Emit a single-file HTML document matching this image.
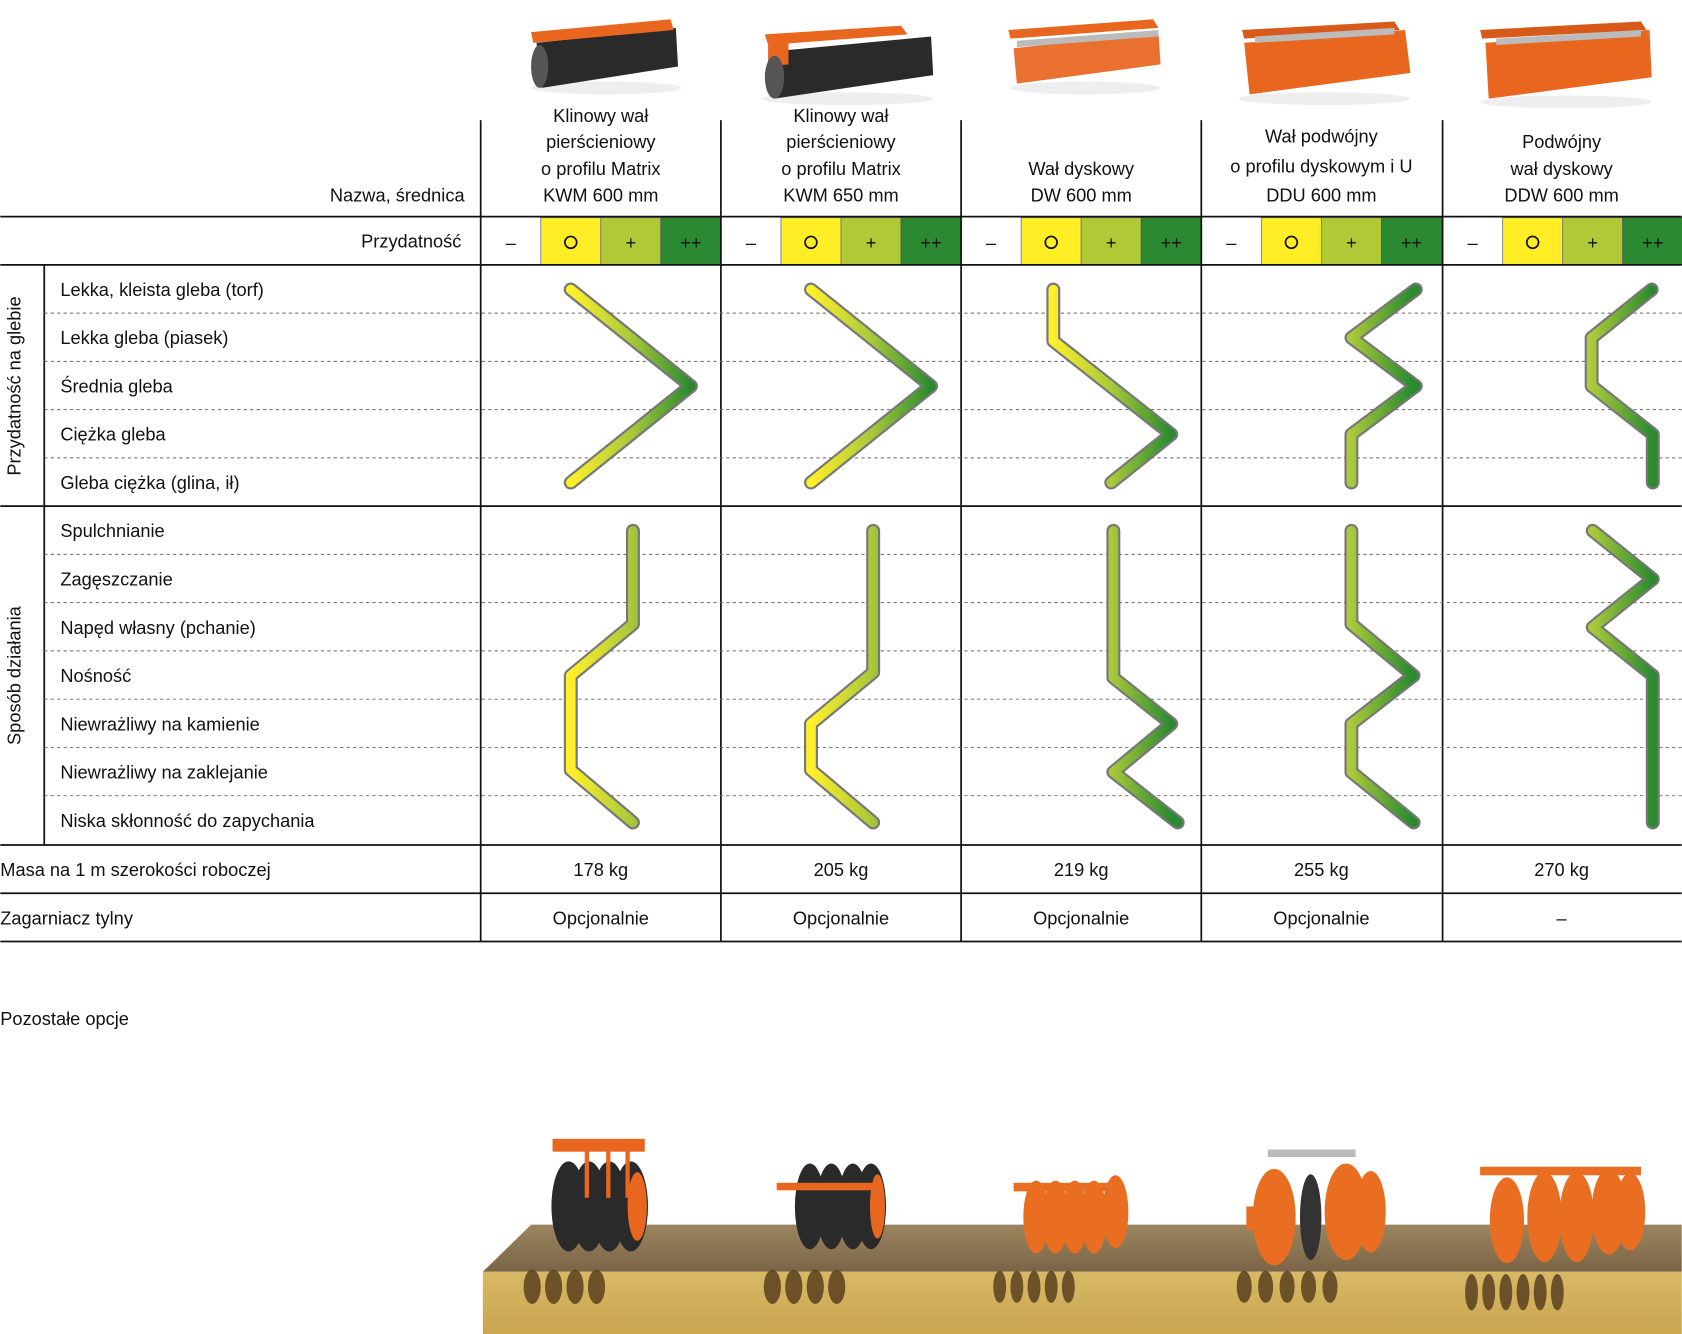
<!DOCTYPE html>
<html><head><meta charset="utf-8"><style>
html,body{margin:0;padding:0;background:#fff}
svg{display:block}
text{font-family:"Liberation Sans",sans-serif;font-size:17px;fill:#111}
</style></head><body>
<svg width="1682" height="1334" viewBox="0 0 1568 1244" xmlns="http://www.w3.org/2000/svg">
<defs>
<linearGradient id="gr" x1="0" y1="0" x2="1" y2="0">
<stop offset="0" stop-color="#fff02a"/><stop offset="0.5" stop-color="#a9c93a"/><stop offset="1" stop-color="#2a8a30"/>
</linearGradient>
<linearGradient id="soilTop" x1="0" y1="0" x2="0" y2="1"><stop offset="0" stop-color="#9b8660"/><stop offset="1" stop-color="#7a6446"/></linearGradient>
<linearGradient id="soilFront" x1="0" y1="0" x2="0" y2="1"><stop offset="0" stop-color="#d8b966"/><stop offset="1" stop-color="#c9a550"/></linearGradient>
</defs>

<!-- top product images -->
<g>
<g transform="translate(0,0)">
<ellipse cx="565" cy="82" rx="70" ry="6" fill="#eee"/>
<polygon points="500,40 630,26 632,62 505,82" fill="#2a2a2a"/>
<polygon points="495,30 625,18 628,28 497,40" fill="#e8661e"/>
<ellipse cx="503" cy="62" rx="8" ry="20" fill="#555"/>
</g>
<g>
<ellipse cx="790" cy="92" rx="80" ry="6" fill="#eee"/>
<polygon points="720,48 868,34 870,70 722,92" fill="#2a2a2a"/>
<polygon points="713,32 840,24 846,32 716,42" fill="#e8661e"/>
<polygon points="716,42 735,40 735,60 716,62" fill="#e8661e"/>
<ellipse cx="722" cy="72" rx="9" ry="20" fill="#555"/>
</g>
<g>
<ellipse cx="1012" cy="82" rx="70" ry="6" fill="#eee"/>
<polygon points="945,45 1080,30 1082,60 948,78" fill="#ea7030"/>
<polygon points="940,28 1075,18 1080,26 942,36" fill="#e8661e"/>
<polygon points="948,38 1080,28 1080,34 948,44" fill="#bbb"/>
</g>
<g>
<ellipse cx="1235" cy="92" rx="80" ry="6" fill="#eee"/>
<polygon points="1160,40 1310,28 1315,68 1165,88" fill="#e8661e"/>
<polygon points="1158,28 1300,20 1305,28 1160,36" fill="#d85a18"/>
<polygon points="1170,34 1300,26 1300,32 1170,40" fill="#bbb"/>
</g>
<g>
<ellipse cx="1460" cy="95" rx="80" ry="6" fill="#eee"/>
<polygon points="1385,40 1538,28 1540,72 1388,92" fill="#e8661e"/>
<polygon points="1380,28 1530,20 1535,28 1382,36" fill="#d85a18"/>
<polygon points="1395,36 1530,28 1530,34 1395,42" fill="#bbb"/>
</g>
</g>

<!-- header text -->
<g text-anchor="middle">
<text x="560" y="114">Klinowy wał</text><text x="560" y="138">pierścieniowy</text><text x="560" y="163">o profilu Matrix</text><text x="560" y="188">KWM 600 mm</text>
<text x="784" y="114">Klinowy wał</text><text x="784" y="138">pierścieniowy</text><text x="784" y="163">o profilu Matrix</text><text x="784" y="188">KWM 650 mm</text>
<text x="1008" y="163">Wał dyskowy</text><text x="1008" y="188">DW 600 mm</text>
<text x="1232" y="133">Wał podwójny</text><text x="1232" y="161">o profilu dyskowym i U</text><text x="1232" y="188">DDU 600 mm</text>
<text x="1456" y="138">Podwójny</text><text x="1456" y="163">wał dyskowy</text><text x="1456" y="188">DDW 600 mm</text>
</g>
<text x="433" y="188" text-anchor="end">Nazwa, średnica</text>
<text x="430" y="231" text-anchor="end">Przydatność</text>

<!-- rating cells -->
<g id="rc">
<rect x="504" y="203" width="56" height="44" fill="#ffed26" stroke="#777" stroke-width="0.8"/>
<rect x="560" y="203" width="56" height="44" fill="#afca36" stroke="#777" stroke-width="0.8"/>
<rect x="616" y="203" width="56" height="44" fill="#2b8a31" stroke="#555" stroke-width="0.8"/>
<text x="476" y="232" text-anchor="middle">–</text>
<circle cx="532" cy="226" r="5.5" fill="none" stroke="#111" stroke-width="1.6"/>
<text x="588" y="232" text-anchor="middle">+</text>
<text x="644" y="232" text-anchor="middle">++</text>
</g>
<use href="#rc" x="224"/><use href="#rc" x="448"/><use href="#rc" x="672"/><use href="#rc" x="897"/>

<!-- grid lines -->
<g stroke="#111" stroke-width="1.6">
<line x1="0" y1="202" x2="1568" y2="202"/>
<line x1="0" y1="247" x2="1568" y2="247"/>
<line x1="0" y1="472" x2="1568" y2="472"/>
<line x1="0" y1="788" x2="1568" y2="788"/>
<line x1="0" y1="833" x2="1568" y2="833"/>
<line x1="0" y1="878" x2="1568" y2="878"/>
<line x1="41" y1="247" x2="41" y2="788"/>
<line x1="448" y1="112" x2="448" y2="878"/>
<line x1="672" y1="112" x2="672" y2="878"/>
<line x1="896" y1="112" x2="896" y2="878"/>
<line x1="1120" y1="112" x2="1120" y2="878"/>
<line x1="1345" y1="112" x2="1345" y2="878"/>
</g>
<g stroke="#666" stroke-width="0.9" stroke-dasharray="3,3">
<line x1="41" y1="292" x2="1568" y2="292"/><line x1="41" y1="337" x2="1568" y2="337"/><line x1="41" y1="382" x2="1568" y2="382"/><line x1="41" y1="427" x2="1568" y2="427"/>
<line x1="41" y1="517" x2="1568" y2="517"/><line x1="41" y1="562" x2="1568" y2="562"/><line x1="41" y1="607" x2="1568" y2="607"/><line x1="41" y1="652" x2="1568" y2="652"/><line x1="41" y1="697" x2="1568" y2="697"/><line x1="41" y1="742" x2="1568" y2="742"/>
</g>

<!-- row labels -->
<g>
<text x="56" y="276">Lekka, kleista gleba (torf)</text>
<text x="56" y="321">Lekka gleba (piasek)</text>
<text x="56" y="366">Średnia gleba</text>
<text x="56" y="411">Ciężka gleba</text>
<text x="56" y="456">Gleba ciężka (glina, ił)</text>
<text x="56" y="501">Spulchnianie</text>
<text x="56" y="546">Zagęszczanie</text>
<text x="56" y="591">Napęd własny (pchanie)</text>
<text x="56" y="636">Nośność</text>
<text x="56" y="681">Niewrażliwy na kamienie</text>
<text x="56" y="726">Niewrażliwy na zaklejanie</text>
<text x="56" y="771">Niska skłonność do zapychania</text>
</g>
<text transform="translate(19,360) rotate(-90)" text-anchor="middle">Przydatność na glebie</text>
<text transform="translate(19,630) rotate(-90)" text-anchor="middle">Sposób działania</text>

<!-- curves -->
<g fill="none" stroke-linejoin="round" stroke-linecap="round">
<g transform="translate(0,0)">
<polyline id="c1a" points="532,270 644,360 532,450" stroke="#777" stroke-width="13"/>
<polyline points="532,270 644,360 532,450" stroke="url(#gr)" stroke-width="9" transform=""/>
</g>
</g>
<!-- gradients per column drawn via userSpaceOnUse -->
<defs>
<linearGradient id="g1" gradientUnits="userSpaceOnUse" x1="532" y1="0" x2="644" y2="0"><stop offset="0" stop-color="#fff02a"/><stop offset="0.5" stop-color="#a9c93a"/><stop offset="1" stop-color="#2a8a30"/></linearGradient>
<linearGradient id="g2" gradientUnits="userSpaceOnUse" x1="756" y1="0" x2="868" y2="0"><stop offset="0" stop-color="#fff02a"/><stop offset="0.5" stop-color="#a9c93a"/><stop offset="1" stop-color="#2a8a30"/></linearGradient>
<linearGradient id="g3" gradientUnits="userSpaceOnUse" x1="980" y1="0" x2="1092" y2="0"><stop offset="0" stop-color="#fff02a"/><stop offset="0.5" stop-color="#a9c93a"/><stop offset="1" stop-color="#2a8a30"/></linearGradient>
<linearGradient id="g4" gradientUnits="userSpaceOnUse" x1="1204" y1="0" x2="1316" y2="0"><stop offset="0" stop-color="#fff02a"/><stop offset="0.5" stop-color="#a9c93a"/><stop offset="1" stop-color="#2a8a30"/></linearGradient>
<linearGradient id="g5" gradientUnits="userSpaceOnUse" x1="1429" y1="0" x2="1541" y2="0"><stop offset="0" stop-color="#fff02a"/><stop offset="0.5" stop-color="#a9c93a"/><stop offset="1" stop-color="#2a8a30"/></linearGradient>
</defs>
<g fill="none" stroke-linejoin="round" stroke-linecap="round" stroke="#777" stroke-width="13">
<polyline points="532,270 644,360 532,450"/>
<polyline points="590,495 590,582 532,630 532,718 590,767"/>
<polyline points="756,270 868,360 756,450"/>
<polyline points="814,495 814,627 756,675 756,718 814,767"/>
<polyline points="982,270 982,318 1092,405 1036,450"/>
<polyline points="1038,495 1038,632 1092,675 1038,720 1098,767"/>
<polyline points="1320,270 1260,315 1320,360 1260,405 1260,450"/>
<polyline points="1260,495 1260,582 1318,630 1260,675 1260,720 1318,767"/>
<polyline points="1540,270 1484,315 1484,360 1541,405 1541,450"/>
<polyline points="1485,495 1541,540 1485,585 1541,630 1541,767"/>
</g>
<g fill="none" stroke-linejoin="round" stroke-linecap="round" stroke-width="9">
<polyline stroke="url(#g1)" points="532,270 644,360 532,450"/>
<polyline stroke="url(#g1)" points="590,495 590,582 532,630 532,718 590,767"/>
<polyline stroke="url(#g2)" points="756,270 868,360 756,450"/>
<polyline stroke="url(#g2)" points="814,495 814,627 756,675 756,718 814,767"/>
<polyline stroke="url(#g3)" points="982,270 982,318 1092,405 1036,450"/>
<polyline stroke="url(#g3)" points="1038,495 1038,632 1092,675 1038,720 1098,767"/>
<polyline stroke="url(#g4)" points="1320,270 1260,315 1320,360 1260,405 1260,450"/>
<polyline stroke="url(#g4)" points="1260,495 1260,582 1318,630 1260,675 1260,720 1318,767"/>
<polyline stroke="url(#g5)" points="1540,270 1484,315 1484,360 1541,405 1541,450"/>
<polyline stroke="url(#g5)" points="1485,495 1541,540 1485,585 1541,630 1541,767"/>
</g>

<!-- bottom rows -->
<text x="0" y="817">Masa na 1 m szerokości roboczej</text>
<text x="0" y="862">Zagarniacz tylny</text>
<g text-anchor="middle">
<text x="560" y="817">178 kg</text><text x="784" y="817">205 kg</text><text x="1008" y="817">219 kg</text><text x="1232" y="817">255 kg</text><text x="1456" y="817">270 kg</text>
<text x="560" y="862">Opcjonalnie</text><text x="784" y="862">Opcjonalnie</text><text x="1008" y="862">Opcjonalnie</text><text x="1232" y="862">Opcjonalnie</text><text x="1456" y="862">–</text>
</g>
<text x="0" y="956">Pozostałe opcje</text>

<!-- soil block -->
<polygon points="450,1186 495,1142 1568,1142 1568,1186" fill="url(#soilTop)"/>
<rect x="450" y="1186" width="1118" height="58" fill="url(#soilFront)"/>
<g fill="#5a4020" opacity="0.85">
<ellipse cx="496" cy="1200" rx="8" ry="16"/><ellipse cx="516" cy="1200" rx="8" ry="16"/><ellipse cx="536" cy="1200" rx="8" ry="16"/><ellipse cx="556" cy="1200" rx="8" ry="16"/>
<ellipse cx="720" cy="1200" rx="8" ry="16"/><ellipse cx="740" cy="1200" rx="8" ry="16"/><ellipse cx="760" cy="1200" rx="8" ry="16"/><ellipse cx="780" cy="1200" rx="8" ry="16"/>
<ellipse cx="932" cy="1200" rx="6" ry="15"/><ellipse cx="948" cy="1200" rx="6" ry="15"/><ellipse cx="964" cy="1200" rx="6" ry="15"/><ellipse cx="980" cy="1200" rx="6" ry="15"/><ellipse cx="996" cy="1200" rx="6" ry="15"/>
<ellipse cx="1160" cy="1200" rx="7" ry="15"/><ellipse cx="1180" cy="1200" rx="7" ry="15"/><ellipse cx="1200" cy="1200" rx="7" ry="15"/><ellipse cx="1220" cy="1200" rx="7" ry="15"/><ellipse cx="1240" cy="1200" rx="7" ry="15"/>
<ellipse cx="1372" cy="1205" rx="6" ry="17"/><ellipse cx="1388" cy="1205" rx="6" ry="17"/><ellipse cx="1404" cy="1205" rx="6" ry="17"/><ellipse cx="1420" cy="1205" rx="6" ry="17"/><ellipse cx="1436" cy="1205" rx="6" ry="17"/><ellipse cx="1452" cy="1205" rx="6" ry="17"/>
</g>
<!-- bottom rollers -->
<g>
<rect x="515" y="1062" width="86" height="12" fill="#e8661e"/>
<ellipse cx="530" cy="1125" rx="16" ry="42" fill="#2a2a2a"/><ellipse cx="549" cy="1125" rx="16" ry="42" fill="#2a2a2a"/><ellipse cx="568" cy="1125" rx="16" ry="42" fill="#2a2a2a"/><ellipse cx="588" cy="1125" rx="16" ry="42" fill="#2a2a2a"/>
<ellipse cx="594" cy="1125" rx="9" ry="32" fill="#e8661e"/>
<rect x="545" y="1072" width="4" height="45" fill="#e8661e"/><rect x="565" y="1072" width="4" height="45" fill="#e8661e"/><rect x="583" y="1072" width="4" height="45" fill="#e8661e"/>
</g>
<g>
<ellipse cx="755" cy="1125" rx="14" ry="40" fill="#2a2a2a"/><ellipse cx="775" cy="1125" rx="14" ry="40" fill="#2a2a2a"/><ellipse cx="795" cy="1125" rx="14" ry="40" fill="#2a2a2a"/><ellipse cx="812" cy="1125" rx="14" ry="40" fill="#2a2a2a"/>
<ellipse cx="818" cy="1125" rx="7" ry="30" fill="#e8661e"/>
<rect x="724" y="1103" width="96" height="7" fill="#e8661e"/>
</g>
<g fill="#ea6e22">
<rect x="945" y="1103" width="100" height="8"/>
<ellipse cx="966" cy="1135" rx="12" ry="34"/><ellipse cx="984" cy="1135" rx="12" ry="34"/><ellipse cx="1002" cy="1135" rx="12" ry="34"/><ellipse cx="1020" cy="1135" rx="12" ry="34"/><ellipse cx="1040" cy="1130" rx="12" ry="34"/>
</g>
<g fill="#ea6e22">
<rect x="1182" y="1072" width="82" height="7" fill="#bbb"/>
<ellipse cx="1188" cy="1135" rx="20" ry="45"/><ellipse cx="1222" cy="1135" rx="10" ry="40" fill="#333"/><ellipse cx="1255" cy="1130" rx="20" ry="45"/><ellipse cx="1278" cy="1130" rx="14" ry="38"/>
<rect x="1162" y="1125" width="30" height="22"/>
</g>
<g fill="#ea6e22">
<rect x="1380" y="1088" width="150" height="8"/>
<ellipse cx="1405" cy="1138" rx="16" ry="40"/><ellipse cx="1440" cy="1135" rx="16" ry="42"/><ellipse cx="1470" cy="1135" rx="16" ry="42"/><ellipse cx="1500" cy="1130" rx="16" ry="40"/><ellipse cx="1520" cy="1130" rx="14" ry="36"/>
</g>
</svg>
</body></html>
